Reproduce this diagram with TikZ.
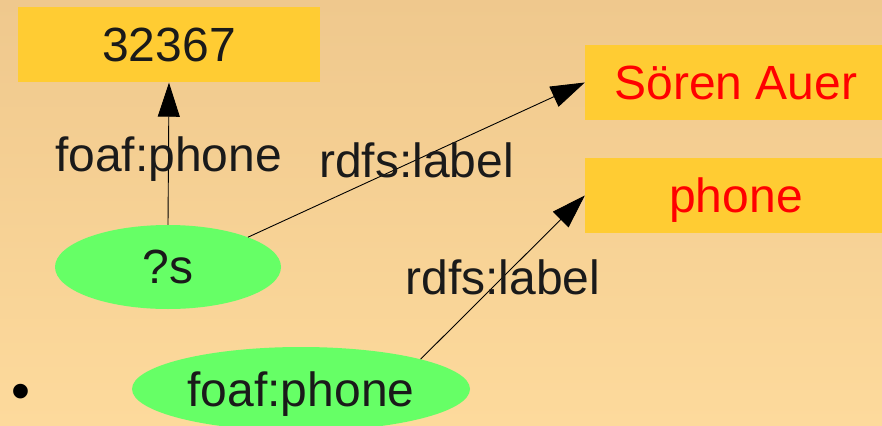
\documentclass[tikz,border=0pt]{standalone}
\usepackage{fontspec}
\setmainfont{Liberation Sans}
\usetikzlibrary{arrows.meta,shapes.geometric}
\definecolor{bgtop}{HTML}{EFC88D}
\definecolor{bgbottom}{HTML}{FDDA9C}
\definecolor{litbox}{HTML}{FFCC33}
\definecolor{resnode}{HTML}{66FF66}
\definecolor{inktext}{HTML}{1A1A1A}
\begin{document}
\begin{tikzpicture}[x=1pt,y=-1pt,
  lit/.style={rectangle,fill=litbox,minimum width=302pt,minimum height=75pt,inner sep=0pt,
    text depth=0pt,font=\fontsize{48}{50}\selectfont},
  res/.style={ellipse,fill=resnode,inner sep=0pt,text=inktext,text depth=0pt,
    font=\fontsize{48}{50}\selectfont},
  rel/.style={draw=black,line width=0.9pt,-{Triangle[length=34pt,width=22pt]}},
  lbl/.style={fill=none,text=inktext,inner sep=0pt,text depth=0pt,
    font=\fontsize{48}{50}\selectfont}]
  \useasboundingbox (0,0) rectangle (882,425);
  \clip (0,0) rectangle (882,425);
  \shade[top color=bgtop,bottom color=bgbottom] (0,0) rectangle (882,425);

  % literal boxes
  \node[lit,text=inktext] (num) at (169,45) {32367};
  \node[lit,text=red] (soeren) at (736,82.5) {Sören Auer};
  \node[lit,text=red] (phone) at (736,195.5) {phone};

  % resource nodes
  \node[res,minimum width=226pt,minimum height=84pt] (s) at (168,267) {?s};
  \node[res,minimum width=338pt,minimum height=84pt] (fp) at (301,389) {foaf:phone};

  % bullet of the list item
  \node[text=black,inner sep=0pt,font=\fontsize{54}{54}\selectfont] (bul) at (21,397) {•};

  % edges
  \draw[rel] (s.north) -- node[lbl] {foaf:phone} (num.south);
  \draw[rel] (s.north east) -- node[lbl] {rdfs:label} (soeren.west);
  \draw[rel] (fp.north east) -- node[lbl] {rdfs:label} (phone.west);
\end{tikzpicture}
\end{document}
